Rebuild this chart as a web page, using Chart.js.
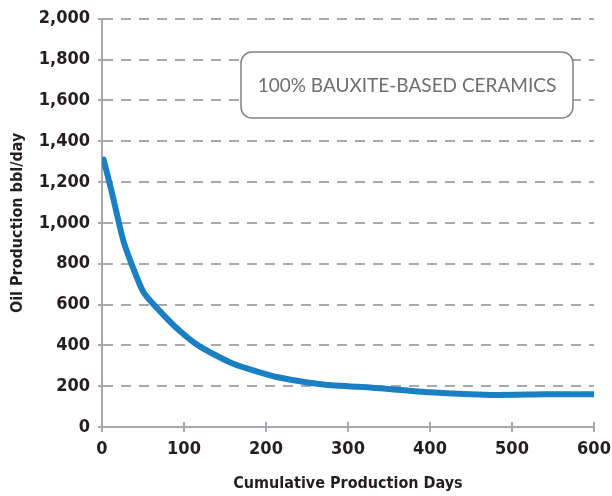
<!DOCTYPE html>
<html>
<head>
<meta charset="utf-8">
<script src="https://cdn.jsdelivr.net/npm/chart.js@4.4.1/dist/chart.umd.min.js"></script>
<style>
  html, body { margin: 0; padding: 0; background: #fff; }
  #wrap { width: 612px; height: 496px; }
</style>
</head>
<body>
<div id="wrap"><canvas id="oilChart" width="612" height="496"></canvas></div>
<script>
// Cumulative production days vs oil production (bbl/day)
const days = [2, 12, 27, 50, 70, 95, 119, 160, 213, 270, 330, 400, 475, 540, 600];
const oilRates = [1310, 1150, 900, 665, 570, 470, 395, 310, 245, 208, 192, 170, 157, 160, 160];
const boxLabel = '100% BAUXITE-BASED CERAMICS';

const axisFont = "'Liberation Sans Narrow', 'DejaVu Sans Condensed', 'Roboto', sans-serif";
const gridGrey = '#a7a9ac';
const textDark = '#231f20';

// Rounded box with the proppant label
const labelBox = {
    id: 'labelBox',
    afterDatasetsDraw(chart) {
        const ctx = chart.ctx;
        const x = 241, y = 52, w = 332, h = 66, r = 11;
        ctx.save();
        ctx.beginPath();
        ctx.roundRect(x, y, w, h, r);
        ctx.fillStyle = '#fff';
        ctx.fill();
        ctx.lineWidth = 1.5;
        ctx.strokeStyle = '#808285';
        ctx.stroke();
        ctx.fillStyle = '#6d6e71';
        ctx.font = "400 19px 'Lato', 'Open Sans', sans-serif";
        ctx.textAlign = 'center';
        ctx.textBaseline = 'middle';
        ctx.fillText(boxLabel, x + w / 2, y + h / 2 + 1);
        ctx.restore();
    }
};

// Small tick marks that cross the x axis
const crossTicks = {
    id: 'crossTicks',
    afterDraw(chart) {
        const ctx = chart.ctx;
        const xs = chart.scales.x;
        const base = chart.scales.y.getPixelForValue(0);
        ctx.save();
        ctx.strokeStyle = gridGrey;
        ctx.lineWidth = 2;
        xs.ticks.forEach(t => {
            const px = xs.getPixelForValue(t.value);
            ctx.beginPath();
            ctx.moveTo(px, base - 5);
            ctx.lineTo(px, base + 5);
            ctx.stroke();
        });
        ctx.restore();
    }
};

const ctx = document.getElementById('oilChart').getContext('2d');
new Chart(ctx, {
    type: 'line',
    data: {
        datasets: [{
            data: days.map((d, i) => ({ x: d, y: oilRates[i] })),
            borderColor: '#1a7fc3',
            borderWidth: 6,
            borderCapStyle: 'round',
            borderJoinStyle: 'round',
            pointRadius: 0,
            tension: 0.2,
            fill: false
        }]
    },
    options: {
        responsive: false,
        animation: false,
        layout: { padding: { top: 10, right: 0, left: 0, bottom: 2 } },
        plugins: {
            legend: { display: false },
            tooltip: { enabled: false }
        },
        scales: {
            x: {
                type: 'linear',
                min: 0,
                max: 600,
                afterFit: s => { s.height = 67; s.paddingRight = 18; },
                ticks: {
                    stepSize: 100,
                    color: textDark,
                    padding: 12,
                    font: { family: axisFont, size: 18, weight: 'bold' }
                },
                grid: { drawOnChartArea: false, drawTicks: false },
                border: { color: gridGrey, width: 2 },
                title: {
                    display: true,
                    text: 'Cumulative Production Days',
                    color: textDark,
                    padding: { top: 0, bottom: 1 },
                    font: { family: axisFont, size: 16, weight: 'bold' }
                }
            },
            y: {
                min: 0,
                max: 2000,
                afterFit: s => { s.width = 102; },
                ticks: {
                    stepSize: 200,
                    color: textDark,
                    padding: 8,
                    font: { family: axisFont, size: 18, weight: 'bold' },
                    callback: v => v.toLocaleString('en-US')
                },
                grid: {
                    color: gridGrey,
                    lineWidth: 2,
                    tickLength: 4,
                    tickBorderDash: []
                },
                border: { color: gridGrey, width: 2, dash: [10, 8] },
                title: {
                    display: true,
                    text: 'Oil Production bbl/day',
                    color: textDark,
                    padding: { top: 8, bottom: 8 },
                    font: { family: axisFont, size: 16, weight: 'bold' }
                }
            }
        }
    },
    plugins: [labelBox, crossTicks]
});
</script>
</body>
</html>
